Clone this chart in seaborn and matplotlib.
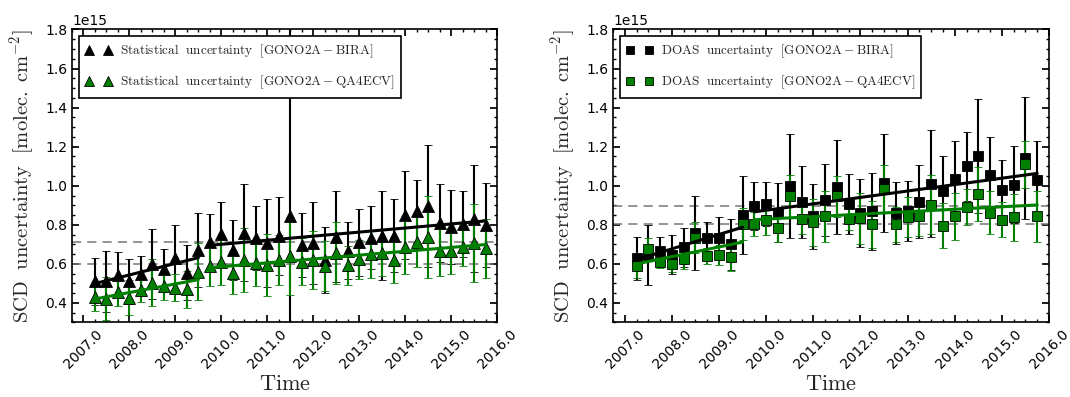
import numpy as np
import matplotlib
matplotlib.use("Agg")
import matplotlib.pyplot as plt
import seaborn as sns
from matplotlib.lines import Line2D
from matplotlib.ticker import MultipleLocator, AutoMinorLocator, FormatStrFormatter

# Quarterly time stamps (decimal years)
time = [2007.25, 2007.50, 2007.75, 2008.00, 2008.25, 2008.50, 2008.75, 2009.00,
        2009.25, 2009.50, 2009.75, 2010.00, 2010.25, 2010.50, 2010.75, 2011.00,
        2011.25, 2011.50, 2011.75, 2012.00, 2012.25, 2012.50, 2012.75, 2013.00,
        2013.25, 2013.50, 2013.75, 2014.00, 2014.25, 2014.50, 2014.75, 2015.00,
        2015.25, 2015.50, 2015.75]
break_year = 2009.5   # trend segments: up to and after this date

# Statistical uncertainty (1e15 molec/cm2)
stat_bira = [0.51, 0.51, 0.545, 0.51, 0.55, 0.60, 0.575, 0.63, 0.555, 0.67,
             0.71, 0.752, 0.671, 0.76, 0.731, 0.709, 0.743, 0.846, 0.697, 0.706,
             0.62, 0.74, 0.668, 0.71, 0.735, 0.745, 0.745, 0.85, 0.87, 0.895,
             0.81, 0.79, 0.805, 0.83, 0.80]
stat_bira_err = [0.118, 0.158, 0.117, 0.117, 0.09, 0.178, 0.10, 0.167, 0.142, 0.19,
                 0.145, 0.165, 0.155, 0.25, 0.163, 0.225, 0.2, 1.3, 0.163, 0.21,
                 0.17, 0.235, 0.144, 0.171, 0.159, 0.226, 0.187, 0.224, 0.162, 0.313,
                 0.2, 0.19, 0.17, 0.274, 0.215]
stat_qa4ecv = [0.431, 0.422, 0.457, 0.427, 0.465, 0.503, 0.486, 0.479, 0.469, 0.56,
               0.589, 0.611, 0.554, 0.62, 0.606, 0.594, 0.62, 0.64, 0.611, 0.62,
               0.589, 0.657, 0.592, 0.623, 0.65, 0.657, 0.62, 0.688, 0.714, 0.736,
               0.668, 0.666, 0.688, 0.705, 0.68]
stat_qa4ecv_err = [0.07, 0.11, 0.075, 0.09, 0.06, 0.12, 0.07, 0.07, 0.095, 0.145,
                   0.10, 0.12, 0.11, 0.165, 0.12, 0.16, 0.13, 0.2, 0.12, 0.15,
                   0.13, 0.16, 0.10, 0.10, 0.12, 0.12, 0.12, 0.14, 0.13, 0.21,
                   0.13, 0.12, 0.10, 0.2, 0.15]

# DOAS uncertainty (1e15 molec/cm2)
doas_bira = [0.628, 0.645, 0.668, 0.646, 0.685, 0.76, 0.73, 0.735, 0.70, 0.85,
             0.898, 0.905, 0.863, 0.997, 0.918, 0.843, 0.925, 0.994, 0.905, 0.86,
             0.87, 1.013, 0.862, 0.869, 0.917, 1.011, 0.972, 1.033, 1.10, 1.152,
             1.057, 0.98, 1.006, 1.14, 1.032]
doas_bira_err = [0.108, 0.155, 0.068, 0.10, 0.10, 0.19, 0.087, 0.105, 0.13, 0.2,
                 0.123, 0.112, 0.15, 0.266, 0.185, 0.166, 0.184, 0.24, 0.154, 0.173,
                 0.197, 0.252, 0.158, 0.154, 0.187, 0.273, 0.18, 0.197, 0.177, 0.292,
                 0.195, 0.15, 0.197, 0.312, 0.197]
doas_qa4ecv = [0.589, 0.676, 0.611, 0.598, 0.625, 0.735, 0.64, 0.645, 0.634, 0.804,
               0.805, 0.826, 0.783, 0.946, 0.831, 0.812, 0.843, 0.946, 0.831, 0.834,
               0.803, 0.984, 0.803, 0.84, 0.843, 0.903, 0.795, 0.843, 0.891, 0.958,
               0.863, 0.826, 0.838, 1.109, 0.843]
doas_qa4ecv_err = [0.06, 0.055, 0.03, 0.04, 0.05, 0.08, 0.04, 0.05, 0.07, 0.08,
                   0.06, 0.08, 0.07, 0.11, 0.08, 0.12, 0.13, 0.105, 0.06, 0.13,
                   0.12, 0.12, 0.09, 0.10, 0.10, 0.15, 0.115, 0.12, 0.09, 0.14,
                   0.11, 0.09, 0.12, 0.12, 0.13]

# Mean uncertainty levels shown as dashed reference lines
stat_levels = [0.711, 0.599]
doas_levels = [0.894, 0.804]

stat_labels = ["Statistical", "Statistical"]
doas_labels = ["DOAS", "DOAS"]
product_labels = ["GONO2A-BIRA", "GONO2A-QA4ECV"]
series_colors = ["black", "green"]

SCALE = 1e15

sns.set_theme(style="ticks", rc={
    "xtick.direction": "in", "ytick.direction": "in",
    "xtick.top": True, "ytick.right": True,
    "xtick.major.size": 5, "ytick.major.size": 5,
    "xtick.minor.size": 2.5, "ytick.minor.size": 2.5,
    "xtick.minor.visible": True, "ytick.minor.visible": True,
    "axes.edgecolor": "black", "axes.linewidth": 1.2,
    "xtick.color": "black", "ytick.color": "black",
})
plt.rcParams["font.family"] = ["DejaVu Sans"]
plt.rcParams["mathtext.fontset"] = "cm"

fig = plt.figure(figsize=(10.7, 3.97), dpi=100)
ax_left = fig.add_axes([0.0673, 0.1877, 0.3972, 0.738])
ax_right = fig.add_axes([0.5729, 0.1877, 0.4075, 0.738])


def draw_panel(ax, series, errors, levels, marker, msize, names):
    t = np.asarray(time)
    for lev in levels:
        ax.axhline(lev * SCALE, color="#777777", ls="--", lw=1.1,
                   dashes=(6, 4), zorder=1)
    for vals, errs, col in zip(series, errors, series_colors):
        ax.errorbar(t, np.asarray(vals) * SCALE, yerr=np.asarray(errs) * SCALE,
                    fmt=marker, color=col, mfc=col, mec="black", mew=0.6,
                    ms=msize, ecolor=col, elinewidth=1.5, capsize=3,
                    capthick=1.0, zorder=2)
    for vals, col in zip(series, series_colors):
        v = np.asarray(vals) * SCALE
        for mask in (t <= break_year, t > break_year):
            sns.regplot(x=t[mask], y=v[mask], ax=ax, scatter=False, ci=None,
                        truncate=True, color=col,
                        line_kws={"lw": 2.2, "zorder": 3})

    ax.set_xlim(2006.75, 2016.0)
    ax.set_ylim(0.3 * SCALE, 1.8 * SCALE)
    ax.xaxis.set_major_locator(MultipleLocator(1))
    ax.xaxis.set_major_formatter(FormatStrFormatter("%.1f"))
    ax.xaxis.set_minor_locator(AutoMinorLocator(4))
    ax.yaxis.set_major_locator(MultipleLocator(0.2 * SCALE))
    ax.yaxis.set_minor_locator(AutoMinorLocator(4))
    ax.tick_params(axis="both", which="major", labelsize=10)
    plt.setp(ax.get_xticklabels(), rotation=45)
    ax.yaxis.get_offset_text().set_fontsize(10)

    ax.set_xlabel(r"$\mathrm{Time}$", fontsize=16, labelpad=2)
    ax.set_ylabel(r"$\mathrm{SCD\ \ uncertainty\ \ [molec.\ cm^{-2}]}$",
                  fontsize=14.8, labelpad=6)

    handles = [Line2D([], [], marker=marker, ls="none", color=c, mfc=c,
                      mec="black", mew=0.6, ms=msize * 0.85)
               for c in series_colors]
    labels = [r"$\mathrm{%s\ \ uncertainty\ \ [%s]}$" % (n, p)
              for n, p in zip(names, product_labels)]
    leg = ax.legend(handles, labels, loc="upper left", numpoints=2,
                    fontsize=9.5, frameon=True, fancybox=False,
                    framealpha=1, edgecolor="black", borderaxespad=0.5,
                    handletextpad=0.6, labelspacing=1.0, borderpad=0.5)
    leg.get_frame().set_linewidth(1.2)
    leg.set_zorder(5)


draw_panel(ax_left, [stat_bira, stat_qa4ecv], [stat_bira_err, stat_qa4ecv_err],
           stat_levels, "^", 9, stat_labels)
draw_panel(ax_right, [doas_bira, doas_qa4ecv], [doas_bira_err, doas_qa4ecv_err],
           doas_levels, "s", 7, doas_labels)

fig.savefig("out.png", dpi=100)
